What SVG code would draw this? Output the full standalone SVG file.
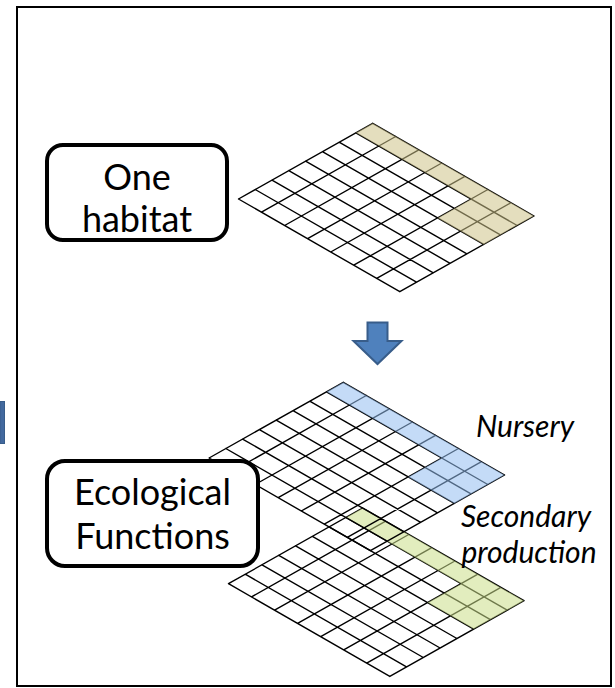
<svg xmlns="http://www.w3.org/2000/svg" xmlns:xlink="http://www.w3.org/1999/xlink" width="615" height="688" viewBox="0 0 615 688">
  <style>
    .frame { fill: none; stroke: #000; stroke-width: 2; }
    .box { fill: #fff; stroke: #000; stroke-width: 4; }
    .box-text { font-family: Lato, "Open Sans", "Liberation Sans", sans-serif; font-size: 36px; fill: #000; text-anchor: middle; }
    .tag { font-family: Lato, "Open Sans", "Liberation Sans", sans-serif; font-style: italic; font-size: 30px; fill: #000; text-anchor: middle; }
    .lines { fill: none; stroke: #000; stroke-width: 1.4; stroke-linecap: round; }
    .hl { fill-opacity: 0.55; stroke: none; }
    .hl-habitat { fill: #CEC389; }
    .hl-nursery { fill: #94BEF0; }
    .hl-secondary { fill: #CADE89; }
    .arrow { fill: #4F81BD; stroke: #385D8A; stroke-width: 2; stroke-linejoin: miter; }
  </style>
  <defs>
    <!-- 7 x 8 cell sheet, drawn from its top corner -->
    <path id="sheet-lines" class="lines" d="M0 0L-134.2 75.7M23 13.2L-111.2 88.9M46.1 26.5L-88.1 102.2M69.1 39.7L-65.1 115.4M92.2 53L-42 128.7M115.2 66.2L-19 141.9M138.2 79.4L4 155.1M161.3 92.7L27.1 168.4M0 0L161.3 92.7M-16.8 9.5L144.5 102.2M-33.6 18.9L127.7 111.6M-50.3 28.4L111 121.1M-67.1 37.8L94.2 130.5M-83.9 47.3L77.4 140M-100.7 56.8L60.6 149.5M-117.5 66.2L43.8 158.9M-134.2 75.7L27.1 168.4"/>
    <!-- top row plus a 2x2 block at the far corner -->
    <path id="sheet-hl" d="M0 0L161.3 92.7L111 121.1L64.9 94.6L98.4 75.7L-16.8 9.5Z"/>
    <filter id="soft" x="-10%" y="-10%" width="120%" height="120%">
      <feGaussianBlur stdDeviation="0.7"/>
    </filter>
  </defs>

  <rect id="frame" class="frame" x="17" y="7" width="594" height="679"/>
  <rect x="0" y="401.5" width="4.5" height="42" fill="#42699E" stroke="#385D8A" stroke-width="1"/>

  <g id="grid-habitat" transform="translate(372.7 123.3)">
    <use xlink:href="#sheet-lines"/>
    <use xlink:href="#sheet-hl" class="hl hl-habitat" filter="url(#soft)"/>
  </g>

  <g id="grid-secondary" transform="translate(362.7 508)">
    <use xlink:href="#sheet-lines"/>
    <use xlink:href="#sheet-hl" class="hl hl-secondary" filter="url(#soft)"/>
  </g>

  <g id="grid-nursery" transform="translate(343.3 382.3)">
    <use xlink:href="#sheet-lines"/>
    <use xlink:href="#sheet-hl" class="hl hl-nursery" filter="url(#soft)"/>
  </g>

  <g id="box-habitat">
    <rect class="box" x="47" y="145" width="180" height="95" rx="16"/>
    <text class="box-text" x="137" y="189.5">One</text>
    <text class="box-text" x="137" y="231.5">habitat</text>
  </g>

  <g id="box-functions">
    <rect class="box" x="47" y="461" width="211" height="105" rx="18"/>
    <text class="box-text" x="152.5" y="504.5">Ecological</text>
    <text class="box-text" x="152.5" y="548.5">Functions</text>
  </g>

  <g id="labels">
    <text class="tag" x="525" y="437">Nursery</text>
    <text class="tag" x="526" y="527">Secondary</text>
    <text class="tag" x="529" y="563">production</text>
  </g>

  <g id="connectors">
    <path class="arrow" d="M367.5 322.5H387.5V341H401.5L377.5 364L353.5 341H367.5Z"/>
  </g>
</svg>
